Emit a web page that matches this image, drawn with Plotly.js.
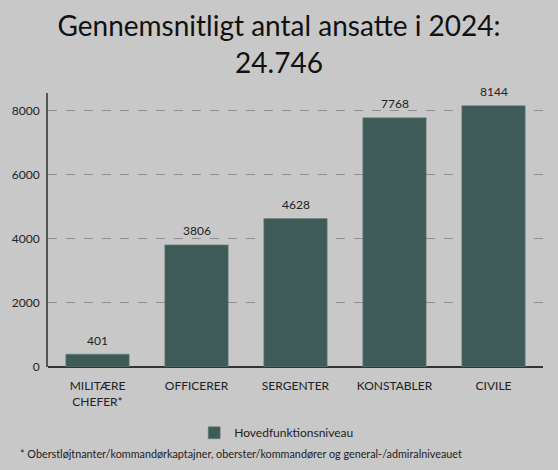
<!DOCTYPE html>
<html>
<head>
<meta charset="utf-8">
<script src="https://cdn.plot.ly/plotly-3.0.1.min.js"></script>
<style>html,body{margin:0;padding:0;background:#c8c8c8;}#chart{width:558px;height:470px;}</style>
</head>
<body>
<div id="chart"></div>
<script>
var categories = ["MILITÆRE<br>CHEFER*", "OFFICERER", "SERGENTER", "KONSTABLER", "CIVILE"];
var values = [401, 3806, 4628, 7768, 8144];
var seriesName = "Hovedfunktionsniveau";
var titleText = "Gennemsnitligt antal ansatte i 2024:<br>24.746";
var footnote = "* Oberstløjtnanter/kommandørkaptajner, oberster/kommandører og general-/admiralniveauet";
var tickVals = [0, 2000, 4000, 6000, 8000];

var font = "Lato, 'Open Sans', sans-serif";
var trace = {
  type: "bar",
  x: categories,
  y: values,
  name: seriesName,
  cliponaxis: false,
  marker: {color: "#3f5b57", line: {color: "#6d8480", width: 0.6}},
  showlegend: true,
  hoverinfo: "x+y"
};
var valueLabels = categories.map(function (c, i) {
  return {
    x: c, y: values[i], xref: "x", yref: "y", text: String(values[i]),
    showarrow: false, yanchor: "middle", yshift: 14,
    font: {family: font, size: 12, color: "#222"}
  };
});
var layout = {
  width: 558, height: 470,
  paper_bgcolor: "#c8c8c8",
  plot_bgcolor: "#c8c8c8",
  font: {family: font, color: "#222", size: 12},
  title: {text: titleText, font: {family: font, size: 28, color: "#111"}, x: 0.5, xanchor: "center",
    xref: "container", yref: "container", y: 0.923, yanchor: "top", automargin: false},
  margin: {l: 48, r: 15, t: 93, b: 103},
  bargap: 0.36,
  xaxis: {
    tickfont: {family: font, size: 12, color: "#222"},
    showline: false, ticks: "", showgrid: false, ticklabelstandoff: 10
  },
  yaxis: {
    range: [0, 8540],
    tickvals: tickVals,
    tickfont: {family: font, size: 12, color: "#222"},
    showgrid: true, gridcolor: "#8f8f8f", griddash: "dash", gridwidth: 1,
    showline: true, linecolor: "#555", linewidth: 2,
    zeroline: true, zerolinecolor: "#333", zerolinewidth: 1.5,
    ticks: "", ticklen: 0, ticklabelstandoff: 4
  },
  legend: {orientation: "h", x: 0.462, xanchor: "center", xref: "paper", y: -0.24, yanchor: "middle",
    font: {family: font, size: 12, color: "#222"}, bgcolor: "rgba(0,0,0,0)"},
  annotations: valueLabels.concat([{
    text: footnote, xref: "paper", yref: "paper", x: -0.061, xanchor: "left",
    y: -0.315, yanchor: "middle", showarrow: false,
    font: {family: font, size: 10.8, color: "#222"}
  }])
};
Plotly.newPlot("chart", [trace], layout, {displayModeBar: false, staticPlot: true});
</script>
</body>
</html>
